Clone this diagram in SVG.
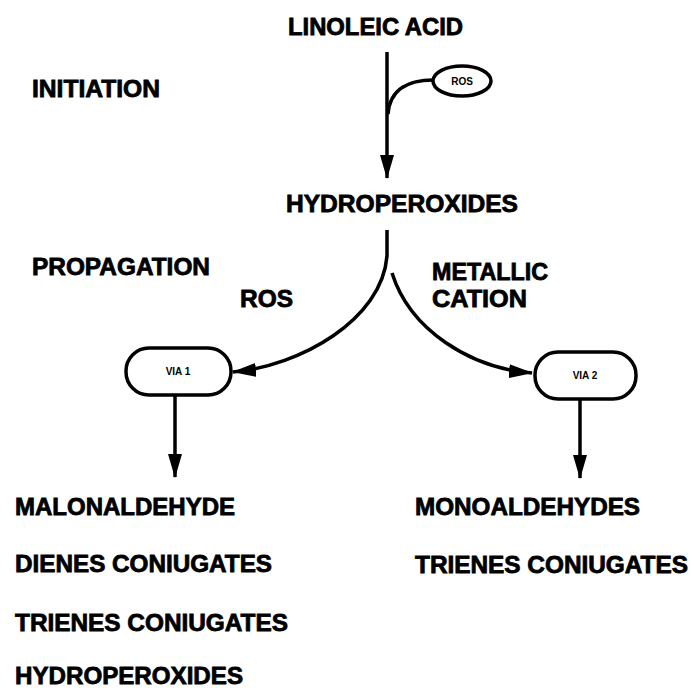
<svg xmlns="http://www.w3.org/2000/svg" width="692" height="697" viewBox="0 0 692 697">
<style>
.t{font-family:"Liberation Sans",Arial,sans-serif;font-weight:bold;font-size:24px;fill:#000;stroke:#000;stroke-width:0.8}
.s{font-family:"Liberation Sans",Arial,sans-serif;font-weight:bold;font-size:10px;fill:#000}
.b{fill:#fff;stroke:#000;stroke-width:3.5}
.c{fill:none;stroke:#000;stroke-width:3.5;marker-end:url(#ah)}
.n{fill:none;stroke:#000;stroke-width:3.5}
</style>
<defs>
<marker id="ah" viewBox="0 0 24 14" refX="23" refY="7" markerWidth="24" markerHeight="14" markerUnits="userSpaceOnUse" orient="auto">
<path d="M0,0 L24,7 L0,14 z" fill="#000"/>
</marker>
</defs>
<rect width="692" height="697" fill="#fff"/>
<g id="connectors">
<path class="c" d="M387,52 L387,178"/>
<path class="n" d="M433,80 C410,80 390,88 388,114"/>
<path class="c" d="M387,230 L387,256 C382,320 300,366 233,372"/>
<path class="c" d="M392,273 C410,330 470,368 532,373"/>
<path class="c" d="M175,395 L175,477"/>
<path class="c" d="M580,400 L580,478"/>
</g>
<g id="linoleic"><text class="t" x="288" y="35" textLength="175" lengthAdjust="spacingAndGlyphs">LINOLEIC ACID</text></g>
<g id="initiation"><text class="t" x="32" y="97" textLength="128" lengthAdjust="spacingAndGlyphs">INITIATION</text></g>
<g id="ros1"><ellipse class="b" cx="462" cy="81" rx="29" ry="15"/><text class="s" x="462" y="85" text-anchor="middle">ROS</text></g>
<g id="hydroperoxides"><text class="t" x="286" y="212" textLength="232" lengthAdjust="spacingAndGlyphs">HYDROPEROXIDES</text></g>
<g id="propagation"><text class="t" x="32" y="275" textLength="178" lengthAdjust="spacingAndGlyphs">PROPAGATION</text></g>
<g id="ros2"><text class="t" x="240" y="307" textLength="53" lengthAdjust="spacingAndGlyphs">ROS</text></g>
<g id="metallic"><text class="t" x="432" y="280" textLength="116" lengthAdjust="spacingAndGlyphs">METALLIC</text><text class="t" x="432" y="307" textLength="95" lengthAdjust="spacingAndGlyphs">CATION</text></g>
<g id="via1"><rect class="b" x="126" y="348" width="105" height="47" rx="23"/><text class="s" x="178" y="375" text-anchor="middle">VIA 1</text></g>
<g id="via2"><rect class="b" x="535" y="352" width="101" height="47" rx="23"/><text class="s" x="585" y="379" text-anchor="middle">VIA 2</text></g>
<g id="products1">
<text class="t" x="15" y="515" textLength="220" lengthAdjust="spacingAndGlyphs">MALONALDEHYDE</text>
<text class="t" x="15" y="572" textLength="257" lengthAdjust="spacingAndGlyphs">DIENES CONIUGATES</text>
<text class="t" x="15" y="631" textLength="273" lengthAdjust="spacingAndGlyphs">TRIENES CONIUGATES</text>
<text class="t" x="15" y="684" textLength="228" lengthAdjust="spacingAndGlyphs">HYDROPEROXIDES</text>
</g>
<g id="products2">
<text class="t" x="415" y="515" textLength="225" lengthAdjust="spacingAndGlyphs">MONOALDEHYDES</text>
<text class="t" x="415" y="573" textLength="273" lengthAdjust="spacingAndGlyphs">TRIENES CONIUGATES</text>
</g>
</svg>
